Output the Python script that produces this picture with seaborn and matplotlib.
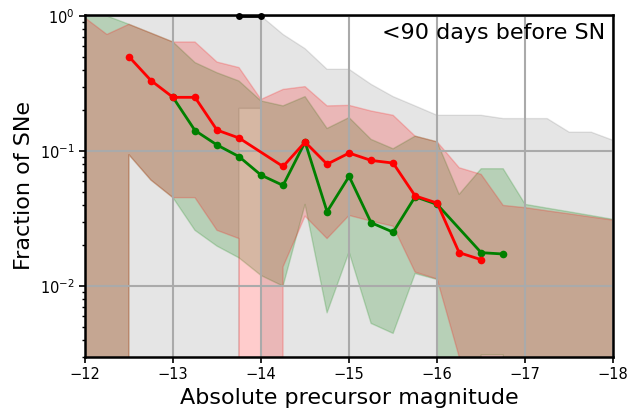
import numpy as np
import pandas as pd
import matplotlib
matplotlib.use("Agg")
import matplotlib.pyplot as plt
import seaborn as sns

# ---- data ----
bins = [-12.0, -12.25, -12.5, -12.75, -13.0, -13.25, -13.5, -13.75, -14.0, -14.25,
        -14.5, -14.75, -15.0, -15.25, -15.5, -15.75, -16.0, -16.25, -16.5, -16.75,
        -17.0, -17.25, -17.5, -17.75, -18.0]

grey_upper = [1.0, 1.0, 1.0, 1.0, 1.0, 1.0, 1.0, 1.0, 1.0, 0.73,
              0.573, 0.403, 0.403, 0.312, 0.253, 0.216, 0.184, 0.184, 0.184, 0.174,
              0.174, 0.174, 0.138, 0.138, 0.12]
grey_lower = [0, 0, 0, 0, 0, 0, 0, 0.207, 0.207, 0,
              0, 0, 0, 0, 0, 0, 0, 0, 0, 0,
              0, 0, 0, 0, 0]

green_upper = [1.0, 1.0, 0.868, 0.747, 0.642, 0.452, 0.38, 0.33, 0.235, 0.216,
               0.253, 0.147, 0.177, 0.122, 0.104, 0.129, 0.117, 0.0478, 0.074, 0.074,
               0.0403, 0.0378, 0.0355, 0.0333, 0.0312]
green_lower = [0, 0, 0.094, 0.061, 0.0452, 0.0259, 0.0198, 0.0162, 0.012, 0.01,
               0.0403, 0.00635, 0.0179, 0.0053, 0.00447, 0.0124, 0.0112, 0, 0.0031, 0.0031,
               0, 0, 0, 0, 0]

red_upper = [0.97, 0.73, 0.868, 0.747, 0.642, 0.642, 0.456, 0.415, 0.241, 0.286,
             0.300, 0.216, 0.218, 0.198, 0.184, 0.129, 0.117, 0.0753, 0.0672, 0.0396,
             0.0381, 0.0361, 0.0343, 0.0325, 0.0308]
red_lower = [0, 0, 0.094, 0.061, 0.0452, 0.0452, 0.0259, 0.0225, 0, 0.0139,
             0.033, 0.0225, 0.0334, 0.0303, 0.0278, 0.0127, 0.0113, 0.003, 0.0025, 0,
             0, 0, 0, 0, 0]

black_mag = [-13.75, -14.0]
black_frac = [1.0, 1.0]

green_mag = [-13.0, -13.25, -13.5, -13.75, -14.0, -14.25, -14.5, -14.75, -15.0,
             -15.25, -15.5, -15.75, -16.0, -16.5, -16.75]
green_frac = [0.25, 0.142, 0.111, 0.091, 0.0664, 0.0557, 0.1166, 0.0356, 0.065,
              0.0295, 0.0251, 0.0459, 0.0403, 0.0177, 0.0173]

red_mag = [-12.5, -12.75, -13.0, -13.25, -13.5, -13.75, -14.25, -14.5, -14.75,
           -15.0, -15.25, -15.5, -15.75, -16.0, -16.25, -16.5]
red_frac = [0.5, 0.333, 0.25, 0.25, 0.143, 0.125, 0.0769, 0.1166, 0.080,
            0.0967, 0.0853, 0.0815, 0.0466, 0.0412, 0.0177, 0.0157]

xticks = [-12, -13, -14, -15, -16, -17, -18]
annotation = "<90 days before SN"

# ---- plot ----
plt.rcParams['font.family'] = ['DejaVu Sans']
plt.rcParams['axes.unicode_minus'] = True

fig = plt.figure(figsize=(6.29, 4.12), dpi=100)
ax = fig.add_axes([0.135, 0.134, 0.84, 0.83])

ax.set_yscale('log')
ax.fill_between(bins, grey_lower, grey_upper, color='black', alpha=0.1, lw=1)
ax.fill_between(bins, green_lower, green_upper, color='green', alpha=0.2, lw=1)
ax.fill_between(bins, red_lower, red_upper, color='red', alpha=0.2, lw=1)

sns.lineplot(x=black_mag, y=black_frac, ax=ax, color='black', marker='o',
             markersize=5, markeredgewidth=0, lw=2, clip_on=False, zorder=3)
sns.lineplot(x=green_mag, y=green_frac, ax=ax, color='green', marker='o',
             markersize=5.5, markeredgewidth=0, lw=2, sort=False)
sns.lineplot(x=red_mag, y=red_frac, ax=ax, color='red', marker='o',
             markersize=5.5, markeredgewidth=0, lw=2, sort=False)

ax.set_xlim(-12, -18)
ax.set_ylim(0.003, 1.02)
ax.set_xticks(xticks)
ax.set_axisbelow('line')
ax.grid(True, which='major', color='#aaaaaa', lw=1.5)

for s in ax.spines.values():
    s.set_linewidth(1.8)
ax.tick_params(which='major', length=4, width=1.2, labelsize=10.5, direction='out')
ax.tick_params(which='minor', length=2.5, width=1.0, direction='out')

ax.set_xlabel("Absolute precursor magnitude", fontsize=16)
ax.set_ylabel("Fraction of SNe", fontsize=16)
ax.text(0.985, 0.975, annotation, transform=ax.transAxes, ha='right', va='top',
        fontsize=16)

fig.savefig("out.png", dpi=100)
